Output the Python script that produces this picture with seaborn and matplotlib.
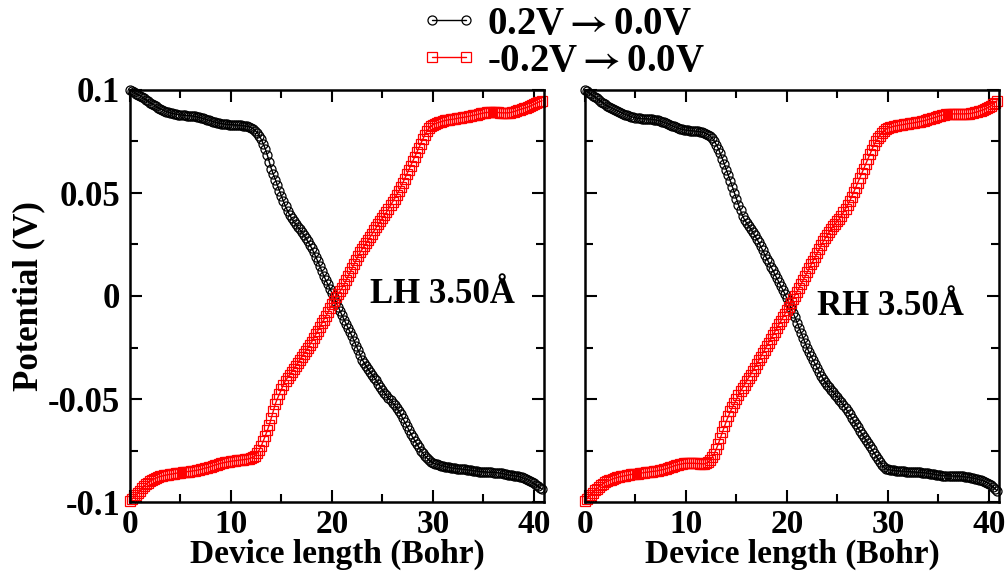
import numpy as np
import matplotlib
matplotlib.use('Agg')
import matplotlib.pyplot as plt
from matplotlib.ticker import MultipleLocator, FuncFormatter
import seaborn as sns

# potential profiles sampled every 0.2 Bohr along the device (0 .. 40.8)
x_step = 0.2

lh_fwd = [0.1000, 0.0995, 0.0989, 0.0983, 0.0977, 0.0971, 0.0965, 0.0959, 0.0953, 0.0946,
          0.0939, 0.0933, 0.0926, 0.0920, 0.0914, 0.0909, 0.0904, 0.0900, 0.0895, 0.0892,
          0.0889, 0.0886, 0.0884, 0.0882, 0.0880, 0.0879, 0.0878, 0.0877, 0.0876, 0.0876,
          0.0875, 0.0874, 0.0872, 0.0870, 0.0867, 0.0865, 0.0862, 0.0859, 0.0856, 0.0853,
          0.0850, 0.0847, 0.0844, 0.0841, 0.0839, 0.0837, 0.0836, 0.0834, 0.0833, 0.0832,
          0.0832, 0.0831, 0.0830, 0.0830, 0.0829, 0.0828, 0.0827, 0.0825, 0.0823, 0.0821,
          0.0817, 0.0811, 0.0803, 0.0793, 0.0779, 0.0760, 0.0738, 0.0714, 0.0684, 0.0650,
          0.0617, 0.0590, 0.0565, 0.0538, 0.0511, 0.0485, 0.0459, 0.0435, 0.0414, 0.0394,
          0.0377, 0.0362, 0.0349, 0.0336, 0.0323, 0.0310, 0.0296, 0.0282, 0.0266, 0.0249,
          0.0232, 0.0212, 0.0190, 0.0168, 0.0144, 0.0120, 0.0097, 0.0076, 0.0056, 0.0036,
          0.0015, -0.0007, -0.0029, -0.0051, -0.0072, -0.0094, -0.0115, -0.0135, -0.0155, -0.0175,
          -0.0196, -0.0218, -0.0241, -0.0264, -0.0287, -0.0309, -0.0326, -0.0342, -0.0356, -0.0370,
          -0.0383, -0.0396, -0.0410, -0.0425, -0.0441, -0.0456, -0.0470, -0.0483, -0.0495, -0.0506,
          -0.0518, -0.0530, -0.0543, -0.0558, -0.0574, -0.0592, -0.0611, -0.0630, -0.0649, -0.0668,
          -0.0686, -0.0702, -0.0718, -0.0734, -0.0750, -0.0764, -0.0776, -0.0786, -0.0796, -0.0804,
          -0.0810, -0.0814, -0.0817, -0.0820, -0.0823, -0.0825, -0.0828, -0.0830, -0.0832, -0.0834,
          -0.0835, -0.0837, -0.0838, -0.0839, -0.0840, -0.0841, -0.0842, -0.0844, -0.0845, -0.0846,
          -0.0848, -0.0849, -0.0850, -0.0852, -0.0853, -0.0854, -0.0854, -0.0855, -0.0856, -0.0856,
          -0.0857, -0.0857, -0.0858, -0.0859, -0.0861, -0.0863, -0.0866, -0.0868, -0.0870, -0.0871,
          -0.0872, -0.0874, -0.0875, -0.0878, -0.0881, -0.0885, -0.0889, -0.0893, -0.0898, -0.0904,
          -0.0910, -0.0917, -0.0924, -0.0931, -0.0938]

lh_rev = [-0.0995, -0.0986, -0.0976, -0.0966, -0.0955, -0.0945, -0.0934, -0.0923, -0.0914, -0.0906,
          -0.0899, -0.0893, -0.0888, -0.0883, -0.0879, -0.0876, -0.0874, -0.0871, -0.0869, -0.0867,
          -0.0865, -0.0864, -0.0862, -0.0860, -0.0859, -0.0857, -0.0856, -0.0855, -0.0853, -0.0852,
          -0.0851, -0.0849, -0.0848, -0.0846, -0.0844, -0.0842, -0.0839, -0.0836, -0.0834, -0.0831,
          -0.0828, -0.0824, -0.0821, -0.0818, -0.0815, -0.0812, -0.0810, -0.0808, -0.0806, -0.0804,
          -0.0802, -0.0801, -0.0800, -0.0798, -0.0797, -0.0796, -0.0795, -0.0793, -0.0792, -0.0790,
          -0.0786, -0.0782, -0.0775, -0.0762, -0.0747, -0.0728, -0.0704, -0.0679, -0.0652, -0.0625,
          -0.0591, -0.0557, -0.0523, -0.0498, -0.0475, -0.0452, -0.0430, -0.0411, -0.0396, -0.0383,
          -0.0369, -0.0355, -0.0340, -0.0326, -0.0311, -0.0296, -0.0282, -0.0267, -0.0252, -0.0237,
          -0.0222, -0.0204, -0.0186, -0.0168, -0.0150, -0.0132, -0.0115, -0.0098, -0.0080, -0.0060,
          -0.0040, -0.0022, -0.0005, 0.0009, 0.0023, 0.0038, 0.0056, 0.0076, 0.0096, 0.0116,
          0.0136, 0.0157, 0.0177, 0.0195, 0.0212, 0.0228, 0.0243, 0.0258, 0.0273, 0.0288,
          0.0303, 0.0318, 0.0334, 0.0349, 0.0363, 0.0378, 0.0392, 0.0407, 0.0423, 0.0440,
          0.0456, 0.0473, 0.0490, 0.0508, 0.0527, 0.0548, 0.0569, 0.0591, 0.0612, 0.0633,
          0.0655, 0.0676, 0.0697, 0.0719, 0.0740, 0.0762, 0.0782, 0.0800, 0.0814, 0.0824,
          0.0831, 0.0836, 0.0840, 0.0843, 0.0846, 0.0849, 0.0852, 0.0854, 0.0856, 0.0857,
          0.0858, 0.0860, 0.0862, 0.0864, 0.0866, 0.0867, 0.0869, 0.0871, 0.0873, 0.0875,
          0.0877, 0.0879, 0.0881, 0.0884, 0.0886, 0.0888, 0.0890, 0.0891, 0.0892, 0.0892,
          0.0892, 0.0891, 0.0891, 0.0890, 0.0889, 0.0889, 0.0889, 0.0889, 0.0890, 0.0892,
          0.0895, 0.0898, 0.0902, 0.0905, 0.0908, 0.0911, 0.0914, 0.0917, 0.0921, 0.0926,
          0.0930, 0.0935, 0.0940, 0.0944, 0.0948]

rh_fwd = [0.1000, 0.0993, 0.0987, 0.0980, 0.0973, 0.0966, 0.0959, 0.0952, 0.0944, 0.0937,
          0.0930, 0.0923, 0.0917, 0.0912, 0.0907, 0.0902, 0.0898, 0.0894, 0.0889, 0.0885,
          0.0881, 0.0877, 0.0873, 0.0870, 0.0867, 0.0865, 0.0863, 0.0862, 0.0861, 0.0861,
          0.0860, 0.0860, 0.0859, 0.0858, 0.0856, 0.0855, 0.0852, 0.0850, 0.0847, 0.0843,
          0.0839, 0.0835, 0.0831, 0.0827, 0.0823, 0.0819, 0.0815, 0.0812, 0.0809, 0.0807,
          0.0805, 0.0804, 0.0803, 0.0802, 0.0801, 0.0800, 0.0799, 0.0797, 0.0795, 0.0793,
          0.0787, 0.0783, 0.0776, 0.0767, 0.0753, 0.0735, 0.0716, 0.0692, 0.0667, 0.0640,
          0.0614, 0.0587, 0.0558, 0.0529, 0.0501, 0.0472, 0.0444, 0.0416, 0.0390, 0.0370,
          0.0355, 0.0340, 0.0326, 0.0310, 0.0295, 0.0279, 0.0261, 0.0241, 0.0221, 0.0201,
          0.0182, 0.0163, 0.0143, 0.0124, 0.0105, 0.0086, 0.0067, 0.0048, 0.0029, 0.0010,
          -0.0012, -0.0035, -0.0058, -0.0081, -0.0104, -0.0129, -0.0154, -0.0178, -0.0203, -0.0228,
          -0.0253, -0.0273, -0.0293, -0.0312, -0.0331, -0.0350, -0.0368, -0.0387, -0.0403, -0.0418,
          -0.0431, -0.0444, -0.0456, -0.0468, -0.0480, -0.0491, -0.0503, -0.0516, -0.0530, -0.0544,
          -0.0559, -0.0575, -0.0592, -0.0608, -0.0623, -0.0638, -0.0653, -0.0669, -0.0684, -0.0699,
          -0.0715, -0.0730, -0.0745, -0.0760, -0.0775, -0.0791, -0.0805, -0.0820, -0.0831, -0.0838,
          -0.0842, -0.0844, -0.0846, -0.0847, -0.0848, -0.0849, -0.0850, -0.0850, -0.0851, -0.0852,
          -0.0852, -0.0853, -0.0854, -0.0854, -0.0855, -0.0856, -0.0856, -0.0857, -0.0858, -0.0859,
          -0.0861, -0.0862, -0.0864, -0.0866, -0.0868, -0.0869, -0.0871, -0.0872, -0.0873, -0.0873,
          -0.0874, -0.0874, -0.0874, -0.0874, -0.0874, -0.0874, -0.0875, -0.0876, -0.0878, -0.0879,
          -0.0880, -0.0882, -0.0884, -0.0886, -0.0888, -0.0891, -0.0894, -0.0897, -0.0901, -0.0906,
          -0.0912, -0.0919, -0.0927, -0.0935, -0.0945]

rh_rev = [-0.0995, -0.0985, -0.0974, -0.0964, -0.0954, -0.0944, -0.0935, -0.0926, -0.0918, -0.0911,
          -0.0905, -0.0899, -0.0895, -0.0891, -0.0887, -0.0884, -0.0881, -0.0878, -0.0876, -0.0874,
          -0.0872, -0.0870, -0.0868, -0.0866, -0.0865, -0.0863, -0.0862, -0.0860, -0.0859, -0.0858,
          -0.0856, -0.0855, -0.0854, -0.0852, -0.0851, -0.0850, -0.0848, -0.0846, -0.0844, -0.0842,
          -0.0839, -0.0836, -0.0832, -0.0829, -0.0825, -0.0822, -0.0819, -0.0817, -0.0815, -0.0813,
          -0.0812, -0.0812, -0.0812, -0.0812, -0.0812, -0.0813, -0.0813, -0.0814, -0.0815, -0.0815,
          -0.0812, -0.0806, -0.0797, -0.0783, -0.0765, -0.0743, -0.0718, -0.0690, -0.0661, -0.0633,
          -0.0607, -0.0583, -0.0560, -0.0540, -0.0520, -0.0501, -0.0482, -0.0463, -0.0446, -0.0430,
          -0.0414, -0.0398, -0.0382, -0.0365, -0.0348, -0.0331, -0.0313, -0.0296, -0.0278, -0.0260,
          -0.0243, -0.0226, -0.0208, -0.0191, -0.0173, -0.0156, -0.0138, -0.0121, -0.0103, -0.0086,
          -0.0069, -0.0051, -0.0034, -0.0016, 0.0002, 0.0021, 0.0040, 0.0058, 0.0077, 0.0096,
          0.0115, 0.0134, 0.0153, 0.0172, 0.0191, 0.0210, 0.0228, 0.0247, 0.0265, 0.0281,
          0.0297, 0.0312, 0.0326, 0.0339, 0.0351, 0.0363, 0.0376, 0.0390, 0.0406, 0.0424,
          0.0441, 0.0460, 0.0481, 0.0503, 0.0526, 0.0550, 0.0573, 0.0596, 0.0617, 0.0640,
          0.0664, 0.0688, 0.0711, 0.0732, 0.0750, 0.0765, 0.0779, 0.0792, 0.0802, 0.0810,
          0.0815, 0.0818, 0.0821, 0.0824, 0.0826, 0.0828, 0.0830, 0.0831, 0.0833, 0.0835,
          0.0837, 0.0838, 0.0839, 0.0841, 0.0843, 0.0845, 0.0847, 0.0849, 0.0851, 0.0854,
          0.0857, 0.0860, 0.0863, 0.0866, 0.0869, 0.0873, 0.0876, 0.0878, 0.0880, 0.0882,
          0.0883, 0.0884, 0.0884, 0.0884, 0.0884, 0.0884, 0.0884, 0.0884, 0.0884, 0.0885,
          0.0885, 0.0886, 0.0888, 0.0891, 0.0893, 0.0897, 0.0900, 0.0903, 0.0907, 0.0912,
          0.0917, 0.0923, 0.0930, 0.0939, 0.0948]

series_labels = ['0.2V$\\rightarrow$0.0V', '-0.2V$\\rightarrow$0.0V']
panel_labels = ['LH 3.50\u00c5', 'RH 3.50\u00c5']

assert len(lh_fwd) == len(lh_rev) == len(rh_fwd) == len(rh_rev)
x = x_step * np.arange(len(lh_fwd))

sns.set_theme(style='ticks')
plt.rcParams['font.family'] = ['Liberation Serif', 'DejaVu Serif']
plt.rcParams['font.weight'] = 'bold'
plt.rcParams['axes.labelweight'] = 'bold'
plt.rcParams['mathtext.fontset'] = 'stix'
for key in ['text.color', 'axes.labelcolor', 'xtick.color', 'ytick.color', 'axes.edgecolor']:
    plt.rcParams[key] = 'black'

fig = plt.figure(figsize=(10.08, 5.73), dpi=100)
ax1 = fig.add_axes([130 / 1008, 71 / 573, 414 / 1008, 412 / 573])
ax2 = fig.add_axes([585 / 1008, 71 / 573, 414 / 1008, 412 / 573])

panels = [(ax1, lh_fwd, lh_rev, panel_labels[0], (23.8, -0.0034)),
          (ax2, rh_fwd, rh_rev, panel_labels[1], (23.0, -0.0092))]

for ax, fwd, rev, name, pos in panels:
    sns.lineplot(x=x, y=fwd, ax=ax, color='black', marker='o', markersize=6.5,
                 markerfacecolor='none', markeredgecolor='black', markeredgewidth=0.9,
                 linewidth=1.0, estimator=None, sort=False, clip_on=False,
                 label=series_labels[0])
    sns.lineplot(x=x, y=rev, ax=ax, color='red', marker='s', markersize=6.5,
                 markerfacecolor='none', markeredgecolor='red', markeredgewidth=0.9,
                 linewidth=1.0, estimator=None, sort=False, clip_on=False,
                 label=series_labels[1])
    if ax.get_legend() is not None:
        ax.get_legend().remove()

    ax.set_xlim(0, 41)
    ax.set_ylim(-0.1, 0.1)
    ax.xaxis.set_major_locator(MultipleLocator(10))
    ax.xaxis.set_minor_locator(MultipleLocator(5))
    ax.yaxis.set_major_locator(MultipleLocator(0.05))
    ax.yaxis.set_minor_locator(MultipleLocator(0.025))
    ax.yaxis.set_major_formatter(FuncFormatter(lambda v, p: f'{round(v, 3) + 0:g}'))
    ax.tick_params(which='both', direction='in', top=True, right=True,
                   width=1.5, labelsize=25, pad=7, colors='black')
    ax.tick_params(axis='x', which='both', labelsize=24, pad=5)
    ax.tick_params(which='major', length=8.5)
    ax.tick_params(which='minor', length=5.8)
    for sp in ax.spines.values():
        sp.set_linewidth(1.8)
        sp.set_color('black')
    ax.set_xlabel('Device length (Bohr)', fontsize=24, labelpad=-1)
    ax.set_ylabel('')
    ax.text(pos[0], pos[1], name, fontsize=25, ha='left', va='baseline')

ax1.set_ylabel('Potential (V)', fontsize=25, labelpad=2)
ax2.tick_params(labelleft=False)

handles = ax1.get_lines()[:2]
fig.legend(handles, series_labels, loc='upper left', bbox_to_anchor=(420 / 1008, 1 - 6 / 573),
           frameon=False, fontsize=28, numpoints=2, handlelength=1.475,
           handletextpad=0.24, labelspacing=0.0, borderpad=0.0, borderaxespad=0.0)

fig.savefig('out.png', dpi=100)
